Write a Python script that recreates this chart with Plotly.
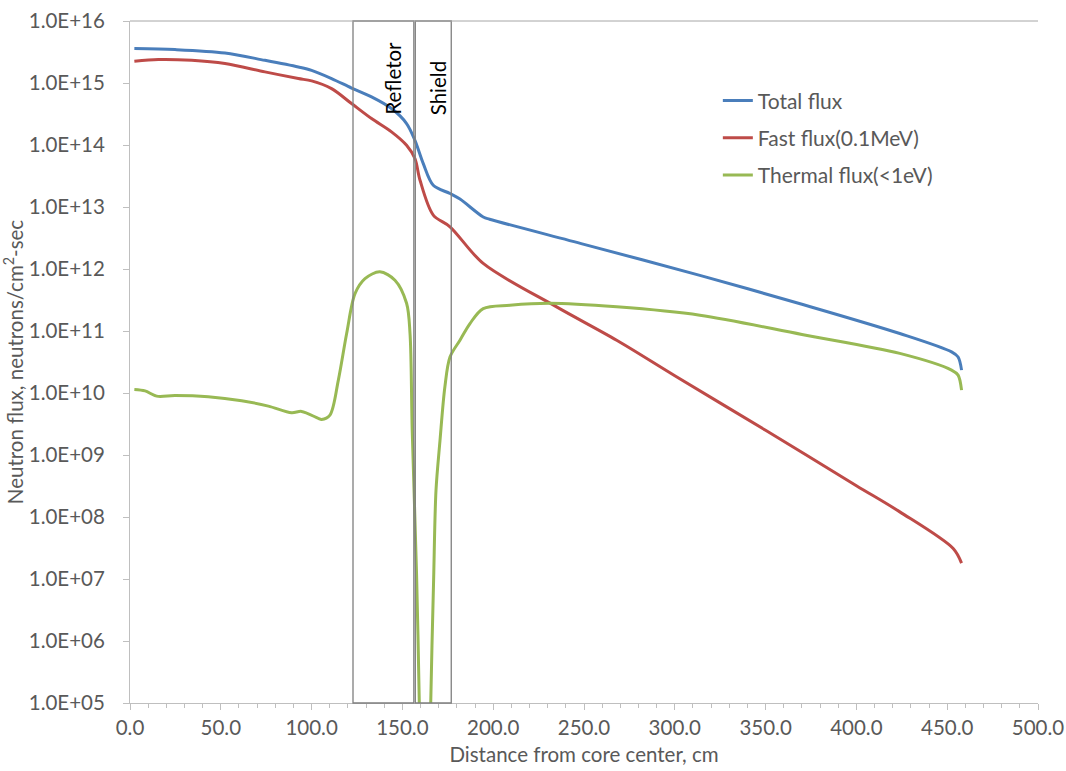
import plotly.graph_objects as go

# ---------------- data ----------------
total_x = [2.4, 24.8, 52.3, 74.3, 92.7, 100, 111, 122, 133, 144, 152.3, 156.9,
           161.5, 167, 176.2, 181.7, 194.5, 198, 250, 313.8, 370, 423.9, 452.4, 456, 457.9]
total_y = [3.59e15, 3.46e15, 3.05e15, 2.32e15, 1.81e15, 1.60e15, 1.18e15, 8.3e14, 5.96e14,
           3.87e14, 2.22e14, 1.19e14, 5.0e13, 2.24e13, 1.65e13, 1.34e13, 6.9e12, 6.35e12,
           2.5e12, 7.9e11, 2.7e11, 9.1e10, 4.6e10, 3.8e10, 2.34e10]

fast_x = [2.4, 15.6, 34, 52.3, 74.3, 92.7, 100, 111, 122, 133, 144, 152.3, 156.9,
          159.7, 167, 176.2, 194.5, 234.9, 268, 300, 350, 400, 423.9, 453.3, 457.9]
fast_y = [2.24e15, 2.39e15, 2.32e15, 2.06e15, 1.51e15, 1.18e15, 1.08e15, 8.1e14, 4.66e14,
          2.67e14, 1.63e14, 9.9e13, 6.05e13, 2.7e13, 7.4e12, 4.8e12, 1.23e12, 2.45e11,
          7.1e10, 1.9e10, 2.5e9, 3.2e8, 1.21e8, 3.1e7, 1.8e7]

thermal_x = [2.4, 8.3, 14.7, 24.8, 43.1, 61.5, 76.2, 89, 94.5, 103.7, 105.5, 110.1,
             114.7, 119.3, 123.9, 129.4, 137.6, 145.9, 152.3, 154.2, 155.4, 157.8, 159.3,
             160.3, 164.7, 165.6, 167.2, 168.5, 170.7, 173.4, 176.2, 181.7, 187.2, 194.5,
             209.2, 231.2, 268, 313.8, 370, 423.9, 452.4, 456, 457.9]
thermal_y = [1.14e10, 1.08e10, 8.9e9, 9.1e9, 8.7e9, 7.5e9, 6.15e9, 4.8e9, 5.05e9, 3.9e9,
             3.75e9, 4.4e9, 1.6e10, 9.1e10, 4.0e11, 7.0e11, 9.0e11, 6.6e11, 2.8e11, 9.1e10,
             2.5e9, 1.2e7, 1.0e5, 1.0e3, 1.0e3, 1.0e5, 1.0e7, 2.7e8, 1.7e9, 1.26e10, 3.8e10,
             7.1e10, 1.32e11, 2.3e11, 2.6e11, 2.8e11, 2.45e11, 1.8e11, 8.8e10, 4.35e10,
             2.34e10, 1.94e10, 1.11e10]

series_names = ["Total flux", "Fast flux(0.1MeV)", "Thermal flux(<1eV)"]
ytick_vals = [1e5, 1e6, 1e7, 1e8, 1e9, 1e10, 1e11, 1e12, 1e13, 1e14, 1e15, 1e16]
ytick_labels = ["1.0E+05", "1.0E+06", "1.0E+07", "1.0E+08", "1.0E+09", "1.0E+10",
                "1.0E+11", "1.0E+12", "1.0E+13", "1.0E+14", "1.0E+15", "1.0E+16"]

# region limits (cm)
refletor_range = [122.8, 156.3]
shield_range = [157.1, 176.9]

FONT = "Lato"
GREY = "#595959"
FS = 20.5

fig = go.Figure()
colors = ["#4A7EBB", "#BE4B48", "#98B954"]
for i, (xs, ys) in enumerate([(total_x, total_y), (fast_x, fast_y), (thermal_x, thermal_y)]):
    fig.add_trace(go.Scatter(
        x=xs, y=ys, mode="lines", name=series_names[i],
        legendgroup=f"g{i}",
        line=dict(color=colors[i], width=3, shape="spline", smoothing=0.9),
    ))

# region boxes
for rng in (refletor_range, shield_range):
    fig.add_shape(type="rect", xref="x", yref="paper", x0=rng[0], x1=rng[1], y0=0, y1=1,
                  line=dict(color="#7f7f7f", width=1.3), fillcolor="rgba(0,0,0,0)", layer="above")
# top border line
fig.add_shape(type="line", xref="paper", yref="paper", x0=0, x1=1, y0=1, y1=1,
              line=dict(color="#a6a6a6", width=1))

fig.add_annotation(x=144.8, y=0.917, xref="x", yref="paper", xanchor="center", yanchor="middle",
                   text="Refletor", textangle=-90, showarrow=False,
                   font=dict(family=FONT, size=FS, color="black"))
fig.add_annotation(x=169.3, y=0.902, xref="x", yref="paper", xanchor="center", yanchor="middle",
                   text="Shield", textangle=-90, showarrow=False,
                   font=dict(family=FONT, size=FS, color="black"))

fig.update_layout(
    width=1066, height=771,
    margin=dict(l=130, r=28, t=21, b=68, autoexpand=False),
    paper_bgcolor="white", plot_bgcolor="white",
    font=dict(family=FONT, size=FS, color=GREY),
    showlegend=True,
    legend=dict(x=0.6474, y=0.913, xanchor="left", yanchor="top",
                bgcolor="rgba(0,0,0,0)", tracegroupgap=7,
                font=dict(family=FONT, size=21, color=GREY)),
    xaxis=dict(
        range=[0, 500], dtick=50, tick0=0, tickformat=".1f",
        showgrid=False, zeroline=False, automargin=False,
        showline=True, linecolor="#bfbfbf", linewidth=1,
        ticks="outside", ticklen=6, tickcolor="#bfbfbf",
        minor=dict(dtick=10, ticks="outside", ticklen=4, tickcolor="#bfbfbf"),
        tickfont=dict(family=FONT, size=FS, color=GREY),
        title=dict(text="Distance from core center, cm", standoff=10,
                   font=dict(family=FONT, size=FS, color=GREY)),
    ),
    yaxis=dict(
        type="log", range=[5, 16],
        tickvals=ytick_vals, ticktext=ytick_labels,
        showgrid=False, zeroline=False, automargin=False,
        showline=True, linecolor="#bfbfbf", linewidth=1,
        ticks="outside", ticklen=6, tickcolor="#bfbfbf",
        ticklabelstandoff=14,
        tickfont=dict(family=FONT, size=FS, color=GREY),
        title=dict(text="Neutron flux, neutrons/cm<sup>2</sup>-sec", standoff=6,
                   font=dict(family=FONT, size=FS, color=GREY)),
    ),
)

fig.write_html("out.html")
